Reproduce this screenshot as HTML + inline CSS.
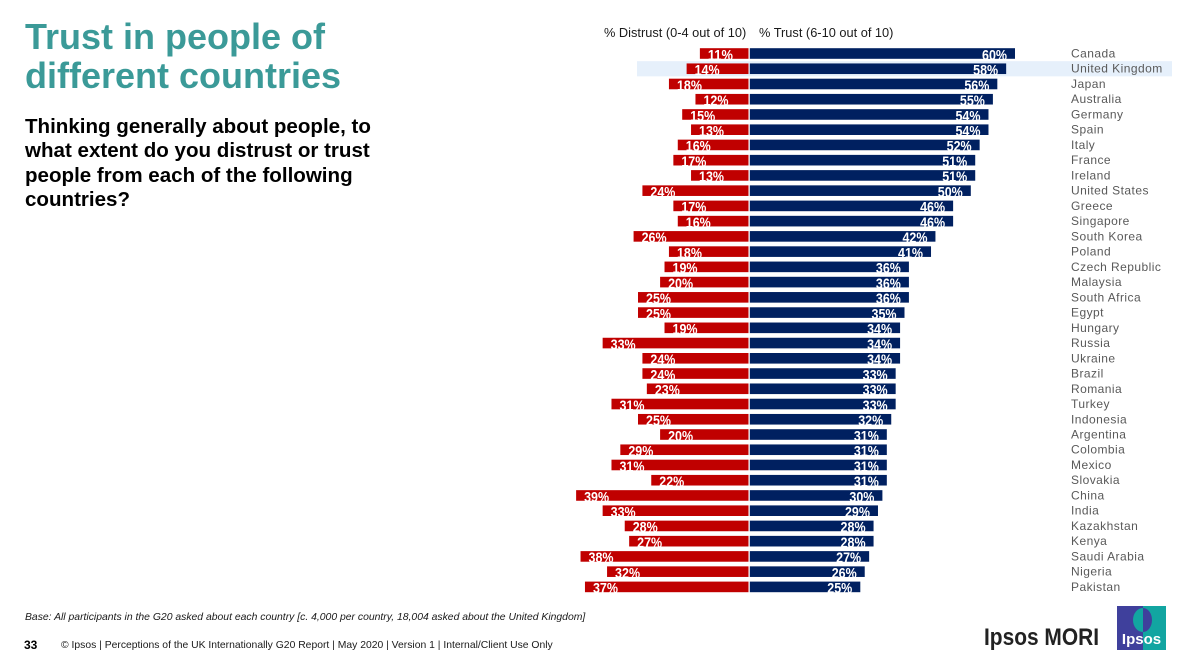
<!DOCTYPE html>
<html>
<head>
<meta charset="utf-8">
<title>Trust in people of different countries</title>
<style>
html,body{margin:0;padding:0;background:#fff}
#slide{position:relative;width:1200px;height:658px;overflow:hidden;background:#fff;font-family:"Liberation Sans",Arial,sans-serif}
.abs{position:absolute;white-space:nowrap}
svg text{font-family:"Liberation Sans",Arial,sans-serif}
</style>
</head>
<body>
<div id="slide">
  <div class="abs" style="left:25px;top:17px;font-size:36px;line-height:39px;font-weight:bold;color:#3b9a98">Trust in people of<br>different countries</div>
  <div class="abs" style="left:25px;top:115px;font-size:20.55px;line-height:24.4px;font-weight:bold;color:#000">Thinking generally about people, to<br>what extent do you distrust or trust<br>people from each of the following<br>countries?</div>
  <svg id="chart" width="1200" height="658" style="position:absolute;left:0;top:0"></svg>
  <div class="abs" style="left:25px;top:611px;font-size:10.4px;line-height:13px;font-style:italic;color:#1a1a1a">Base: All participants in the G20 asked about each country [c. 4,000 per country, 18,004 asked about the United Kingdom]</div>
  <div class="abs" style="left:24px;top:638px;font-size:12px;line-height:14px;font-weight:bold;color:#000">33</div>
  <div class="abs" style="left:61px;top:639px;font-size:10.37px;line-height:14px;color:#1a1a1a">© Ipsos | Perceptions of the UK Internationally G20 Report | May 2020 | Version 1 | Internal/Client Use Only</div>
  <svg width="125" height="40" style="position:absolute;left:980px;top:615px">
    <text x="4" y="30" font-size="24" font-weight="bold" fill="#222" textLength="115" lengthAdjust="spacingAndGlyphs">Ipsos MORI</text>
  </svg>
  <svg width="52" height="46" style="position:absolute;left:1116px;top:605px">
    <rect x="1" y="1" width="26" height="44" fill="#3f409c"/>
    <rect x="27" y="1" width="23" height="44" fill="#12a5a1"/>
    <path d="M27 3 A10 12 0 0 0 27 27 Z" fill="#12a5a1"/>
    <path d="M27 3 A9 12 0 0 1 27 27 Z" fill="#3f409c"/>
    <text x="25.5" y="39" text-anchor="middle" font-size="15" font-weight="bold" fill="#fff">Ipsos</text>
  </svg>
</div>
<script>
const countries = ["Canada","United Kingdom","Japan","Australia","Germany","Spain","Italy","France","Ireland","United States","Greece","Singapore","South Korea","Poland","Czech Republic","Malaysia","South Africa","Egypt","Hungary","Russia","Ukraine","Brazil","Romania","Turkey","Indonesia","Argentina","Colombia","Mexico","Slovakia","China","India","Kazakhstan","Kenya","Saudi Arabia","Nigeria","Pakistan"];
const distrust = [11,14,18,12,15,13,16,17,13,24,17,16,26,18,19,20,25,25,19,33,24,24,23,31,25,20,29,31,22,39,33,28,27,38,32,37];
const trust = [60,58,56,55,54,54,52,51,51,50,46,46,42,41,36,36,36,35,34,34,34,33,33,33,32,31,31,31,31,30,29,28,28,27,26,25];
const highlighted = "United Kingdom";

const svg = document.getElementById('chart');
const NS = 'http://www.w3.org/2000/svg';
const zeroX = 749.5, pxPerPct = 4.42, firstY = 53.5, rowStep = 15.24, barH = 10.6;
function xTrust(v){ return zeroX + 0.3 + v * pxPerPct; }
function xDistrust(v){ return zeroX - 1 - v * pxPerPct; }
function yRow(i){ return firstY + i * rowStep; }
function make(tag, attrs, text){
  const el = document.createElementNS(NS, tag);
  for (const k in attrs) el.setAttribute(k, attrs[k]);
  if (text !== undefined) el.textContent = text;
  svg.appendChild(el);
  return el;
}

const headD = make('text', {x:604, y:37, 'font-size':12.8, fill:'#1a1a1a'}, '% Distrust (0-4 out of 10)');


const headT = make('text', {x:759, y:37, 'font-size':12.8, fill:'#1a1a1a'}, '% Trust (6-10 out of 10)');



countries.forEach(function(name, i){
  const y = yRow(i);
  if (name === highlighted) {
    const band = make('rect', {x:637, y:y-7.6, width:535, height:15.2, fill:'#e6f0fb'});
    
    
  }
  const dx = xDistrust(distrust[i]);
  const dBar = make('rect', {x:dx, y:y-barH/2, width:zeroX-1-dx, height:barH, fill:'#c00000'});
  
  
  const tx = xTrust(trust[i]);
  const tBar = make('rect', {x:zeroX+0.3, y:y-barH/2, width:tx-zeroX-0.3, height:barH, fill:'#002060'});
  
  
  const dLab = make('text', {x:dx+8, y:y+6.3, 'font-size':14.5, 'font-weight':'bold', fill:'#fff', textLength:25, lengthAdjust:'spacingAndGlyphs'}, distrust[i] + '%');
  
  
  const tLab = make('text', {x:tx-33, y:y+6.3, 'font-size':14.5, 'font-weight':'bold', fill:'#fff', textLength:25, lengthAdjust:'spacingAndGlyphs'}, trust[i] + '%');
  
  
  const cLab = make('text', {x:1071, y:y+4, 'font-size':12, fill:'#595959', 'letter-spacing':0.45}, name);
  
  
});
</script>
</body>
</html>
